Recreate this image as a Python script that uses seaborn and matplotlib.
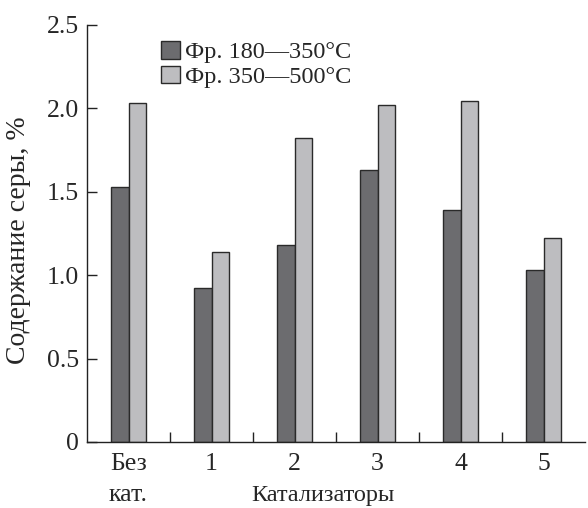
import numpy as np
import pandas as pd
import matplotlib.pyplot as plt
import seaborn as sns

# data
categories = ["Без\nкат.", "1", "2", "3", "4", "5"]
series_names = ["Фр. 180—350°C", "Фр. 350—500°C"]
frac_180_350 = [1.53, 0.92, 1.18, 1.63, 1.39, 1.03]
frac_350_500 = [2.03, 1.14, 1.82, 2.02, 2.045, 1.22]
yticks = [0, 0.5, 1.0, 1.5, 2.0, 2.5]
ytick_labels = ["0", "0.5", "1.0", "1.5", "2.0", "2.5"]

df = pd.DataFrame({
    "cat": categories * 2,
    "series": [series_names[0]] * len(categories) + [series_names[1]] * len(categories),
    "value": frac_180_350 + frac_350_500,
})

sns.set_style("ticks")
plt.rcParams["font.family"] = ["Liberation Serif", "DejaVu Serif"]

fig = plt.figure(figsize=(5.88, 5.08), dpi=100)
ax = fig.add_axes([0.148, 0.13, 0.847, 0.821])

sns.barplot(data=df, x="cat", y="value", hue="series", order=categories,
            hue_order=series_names, palette=["#6b6c70", "#bcbdc1"],
            width=0.42, edgecolor="#2a2a2a", linewidth=1.0, ax=ax)

ax.set_xlim(-0.5, 5.5)
ax.set_ylim(0, 2.5)
ax.set_yticks(yticks)
ax.set_yticklabels(ytick_labels, fontsize=18.5)
ax.set_xticks(range(len(categories)))
ax.set_xticklabels(categories, fontsize=18.5, linespacing=1.5)
ax.set_xticks(np.arange(0.5, 5.0, 1.0), minor=True)
ax.tick_params(axis="x", which="major", length=0, pad=8)
ax.tick_params(axis="x", which="minor", direction="in", length=7, width=1, color="#222222")
ax.tick_params(axis="y", direction="in", length=7, width=1, color="#222222", pad=6)

for side in ["top", "right"]:
    ax.spines[side].set_visible(False)
for side in ["left", "bottom"]:
    ax.spines[side].set_linewidth(1.0)
    ax.spines[side].set_color("#222222")

ax.set_xlabel("Катализаторы", fontsize=17.5)
ax.xaxis.set_label_coords(0.474, -0.103)
ax.set_ylabel("Содержание серы, %", fontsize=20)
ax.yaxis.set_label_coords(-0.112, 0.484)

ax.legend(loc="upper left", bbox_to_anchor=(0.13, 0.985), frameon=False,
          fontsize=17.5, handlelength=0.75, handleheight=0.75, handletextpad=0.2,
          labelspacing=0.1, borderaxespad=0)

fig.savefig("out.png", dpi=100)
